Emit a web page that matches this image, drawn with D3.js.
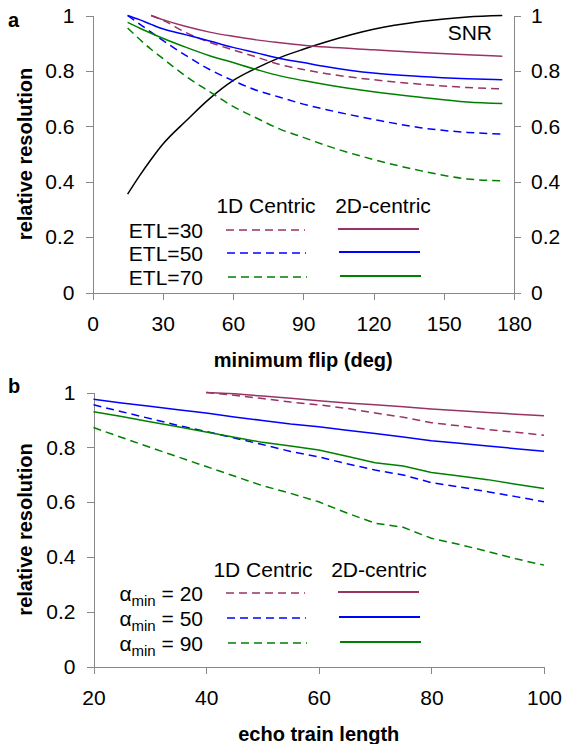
<!DOCTYPE html>
<html>
<head>
<meta charset="utf-8">
<script src="https://cdn.jsdelivr.net/npm/d3@7"></script>
<style>
body { margin: 0; background: #fff; }
svg text { font-family: "Liberation Sans", Arial, sans-serif; fill: #000; }
.axis path, .axis line { stroke: #888; stroke-width: 1; shape-rendering: crispEdges; }
.axis text { font-size: 21px; }
</style>
</head>
<body>
<svg id="chart" width="563" height="744"></svg>
<script>
// ---- panel a : relative resolution vs minimum flip angle ----
var flipAngle = [15, 20, 25, 30, 40, 50, 60, 70, 80, 90, 100, 120, 140, 160, 175];
var snr       = [0.355, 0.42, 0.48, 0.535, 0.62, 0.70, 0.765, 0.81, 0.848, 0.878, 0.905, 0.95, 0.978, 0.995, 1.0];
var etl30_1d  = [null, null, 1.0, 0.983, 0.938, 0.903, 0.876, 0.85, 0.823, 0.805, 0.79, 0.768, 0.752, 0.74, 0.735];
var etl30_2d  = [null, null, 1.0, 0.985, 0.96, 0.94, 0.925, 0.912, 0.902, 0.893, 0.886, 0.876, 0.866, 0.858, 0.853];
var etl50_1d  = [1.0, 0.97, 0.94, 0.91, 0.855, 0.805, 0.765, 0.73, 0.705, 0.68, 0.66, 0.625, 0.595, 0.578, 0.572];
var etl50_2d  = [1.0, 0.985, 0.968, 0.952, 0.93, 0.908, 0.885, 0.865, 0.845, 0.83, 0.815, 0.792, 0.78, 0.772, 0.768];
var etl70_1d  = [0.955, 0.915, 0.878, 0.845, 0.78, 0.725, 0.672, 0.63, 0.59, 0.56, 0.53, 0.48, 0.44, 0.41, 0.403];
var etl70_2d  = [0.975, 0.955, 0.936, 0.918, 0.885, 0.855, 0.83, 0.805, 0.782, 0.765, 0.75, 0.725, 0.705, 0.688, 0.682];
var flipTicks = [0, 30, 60, 90, 120, 150, 180];

// ---- panel b : relative resolution vs echo train length ----
var etl        = [20, 25, 30, 35, 40, 45, 50, 55, 60, 65, 70, 75, 80, 85, 90, 95, 100];
var amin20_1d  = [null, null, null, null, 1.0, 0.99, 0.978, 0.965, 0.955, 0.942, 0.925, 0.91, 0.89, 0.878, 0.865, 0.855, 0.844];
var amin20_2d  = [null, null, null, null, 1.0, 0.995, 0.987, 0.979, 0.97, 0.962, 0.955, 0.948, 0.94, 0.933, 0.927, 0.921, 0.915];
var amin50_1d  = [0.955, 0.93, 0.905, 0.88, 0.858, 0.834, 0.81, 0.785, 0.765, 0.74, 0.717, 0.699, 0.671, 0.655, 0.638, 0.62, 0.601];
var amin50_2d  = [0.975, 0.962, 0.95, 0.937, 0.925, 0.911, 0.898, 0.885, 0.875, 0.862, 0.85, 0.838, 0.824, 0.815, 0.805, 0.795, 0.786];
var amin90_1d  = [0.872, 0.836, 0.8, 0.765, 0.73, 0.695, 0.66, 0.632, 0.601, 0.56, 0.523, 0.508, 0.468, 0.445, 0.42, 0.393, 0.37];
var amin90_2d  = [0.93, 0.912, 0.893, 0.875, 0.856, 0.837, 0.818, 0.805, 0.79, 0.767, 0.744, 0.732, 0.708, 0.695, 0.682, 0.665, 0.65];
var etlTicks   = [20, 40, 60, 80, 100];

var resTicks = [0, 0.2, 0.4, 0.6, 0.8, 1];
var etlNames  = ["ETL=30", "ETL=50", "ETL=70"];
var aminNames = ["20", "50", "90"];
var colors = ["#993366", "#0000ff", "#008000"];

var svg = d3.select("#chart");
var fmt = d3.format("~g");

function drawPanel(opt) {
    var x = d3.scaleLinear().domain(opt.xDomain).range(opt.xRange);
    var y = d3.scaleLinear().domain([0, 1]).range(opt.yRange);
    var g = svg.append("g");

    g.append("g").attr("class", "axis")
        .attr("transform", "translate(0," + opt.yRange[0] + ")")
        .call(d3.axisBottom(x).tickValues(opt.xTicks).tickSize(7).tickPadding(17).tickSizeOuter(0))
        .call(function (a) { a.select(".domain").attr("d", "M" + (opt.xRange[0] - 7) + ",0.5H" + (opt.xRange[1] + (opt.rightAxis ? 7 : 0))); });

    g.append("g").attr("class", "axis")
        .attr("transform", "translate(" + opt.xRange[0] + ",0)")
        .call(d3.axisLeft(y).tickValues(resTicks).tickFormat(fmt).tickSize(7).tickPadding(11).tickSizeOuter(0));

    if (opt.rightAxis) {
        g.append("g").attr("class", "axis")
            .attr("transform", "translate(" + opt.xRange[1] + ",0)")
            .call(d3.axisRight(y).tickValues(resTicks).tickFormat(fmt).tickSize(7).tickPadding(10).tickSizeOuter(0));
    }

    var line = d3.line()
        .defined(function (d) { return d[1] !== null; })
        .x(function (d) { return x(d[0]); })
        .y(function (d) { return y(d[1]); })
        .curve(opt.curve);

    opt.series.forEach(function (s) {
        g.append("path")
            .datum(opt.xs.map(function (v, i) { return [v, s.values[i]]; }))
            .attr("fill", "none")
            .attr("stroke", s.color)
            .attr("stroke-width", 1.5)
            .attr("stroke-dasharray", s.dashed ? "8,5" : null)
            .attr("d", line);
    });

    // axis titles
    g.append("text")
        .attr("transform", "translate(32," + ((opt.yRange[0] + opt.yRange[1]) / 2) + ") rotate(-90)")
        .attr("text-anchor", "middle")
        .style("font-size", "20px").style("font-weight", "bold")
        .text("relative resolution");
    g.append("text")
        .attr("x", (opt.xRange[0] + opt.xRange[1]) / 2)
        .attr("y", opt.yRange[0] + 74)
        .attr("text-anchor", "middle")
        .style("font-size", "20px").style("font-weight", "bold")
        .text(opt.xTitle);
    g.append("text")
        .attr("x", 8).attr("y", opt.yRange[1] + opt.letterDy)
        .style("font-size", "20px").style("font-weight", "bold")
        .text(opt.letter);

    // legend
    var L = opt.legend;
    g.append("text").attr("x", L.col1).attr("y", L.top).attr("text-anchor", "middle")
        .style("font-size", "21px").text("1D Centric");
    g.append("text").attr("x", L.col2).attr("y", L.top).attr("text-anchor", "middle")
        .style("font-size", "21px").text("2D-centric");
    L.names.forEach(function (n, i) {
        var ly = L.rows[i];
        var t = g.append("text").attr("x", 203).attr("y", ly + 8).attr("text-anchor", "end")
            .style("font-size", "21px");
        if (L.alpha) {
            t.append("tspan").text("α");
            t.append("tspan").attr("dy", 5).style("font-size", "15px").text("min");
            t.append("tspan").attr("dy", -5).text(" = " + n);
        } else {
            t.text(n);
        }
        g.append("line").attr("x1", 226 + i).attr("x2", 305 + i).attr("y1", ly).attr("y2", ly)
            .attr("stroke", colors[i]).attr("stroke-width", 1.5).attr("stroke-dasharray", "8,5");
        g.append("line").attr("x1", 338 + i).attr("x2", 419 + i).attr("y1", ly - 1).attr("y2", ly - 1)
            .attr("stroke", colors[i]).attr("stroke-width", 2);
    });
    return { x: x, y: y, g: g };
}

var pa = drawPanel({
    xDomain: [0, 180], xRange: [92.5, 514], yRange: [292.5, 15.5], xTicks: flipTicks,
    rightAxis: true, xs: flipAngle, curve: d3.curveMonotoneX,
    xTitle: "minimum flip (deg)", letter: "a", letterDy: 11,
    series: [
        { values: snr, color: "#000", dashed: false },
        { values: etl30_1d, color: colors[0], dashed: true },
        { values: etl30_2d, color: colors[0], dashed: false },
        { values: etl50_1d, color: colors[1], dashed: true },
        { values: etl50_2d, color: colors[1], dashed: false },
        { values: etl70_1d, color: colors[2], dashed: true },
        { values: etl70_2d, color: colors[2], dashed: false }
    ],
    legend: { col1: 266, col2: 383, top: 213, rows: [230, 253, 277], names: etlNames, alpha: false }
});
pa.g.append("text").attr("x", 492).attr("y", 40).attr("text-anchor", "end")
    .style("font-size", "21px").text("SNR");

drawPanel({
    xDomain: [20, 100], xRange: [93.5, 544], yRange: [666.5, 392.5], xTicks: etlTicks,
    rightAxis: false, xs: etl, curve: d3.curveLinear,
    xTitle: "echo train length", letter: "b", letterDy: 0,
    series: [
        { values: amin20_1d, color: colors[0], dashed: true },
        { values: amin20_2d, color: colors[0], dashed: false },
        { values: amin50_1d, color: colors[1], dashed: true },
        { values: amin50_2d, color: colors[1], dashed: false },
        { values: amin90_1d, color: colors[2], dashed: true },
        { values: amin90_2d, color: colors[2], dashed: false }
    ],
    legend: { col1: 263, col2: 379, top: 577, rows: [593, 618, 643], names: aminNames, alpha: true }
});
</script>
</body>
</html>
